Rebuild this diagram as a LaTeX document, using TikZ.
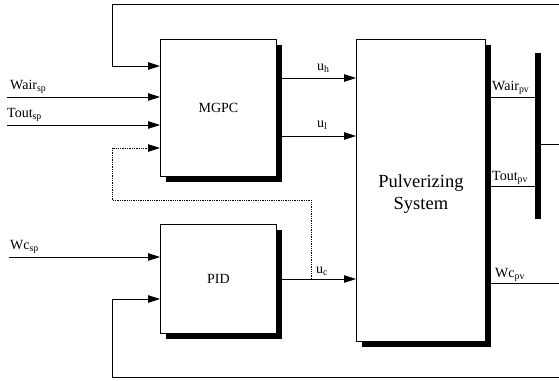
\documentclass[tikz,border=0pt]{standalone}
\usepackage{fontspec}
\setmainfont{Liberation Serif}
\usetikzlibrary{arrows.meta,shadows}
\begin{document}
\begin{tikzpicture}[x=1pt,y=-1pt,
  ln/.style={line width=0.8pt},
  arr/.style={ln,-{Triangle[length=12pt,width=7.5pt]}},
  dots/.style={line width=0.7pt,dash pattern=on 1.3pt off 1pt},
  blk/.style={draw,line width=0.8pt,fill=white,inner sep=0pt,
    drop shadow={shadow xshift=6pt,shadow yshift=-6pt,fill=black,opacity=1}},
  lbl/.style={font=\fontsize{14}{14}\selectfont,inner sep=0pt,anchor=base west}]
\useasboundingbox (0,0) rectangle (559,380);
% blocks
\node[blk,minimum width=116pt,minimum height=137pt,anchor=north west] (mgpc) at (160,39) {};
\node[font=\fontsize{14}{14}\selectfont] at (mgpc.center) {MGPC};
\node[blk,minimum width=116pt,minimum height=109pt,anchor=north west] (pid) at (160,224) {};
\node[font=\fontsize{14}{14}\selectfont] at (pid.center) {PID};
\node[blk,minimum width=129pt,minimum height=302pt,anchor=north west] (ps) at (356,39) {};
\node[font=\fontsize{18.5}{22}\selectfont,align=center] at ([yshift=-4pt]ps.center) {Pulverizing\\System};
% bar
\fill (535,53) rectangle (541,219);
\coordinate (bartop) at (535,97);
\coordinate (barmid) at (535,186);
\coordinate (barout) at (541,144);
% coordinates
\coordinate (topR) at (559,4);
\coordinate (topL) at (112,4);
\coordinate (in1) at (160,66);
\coordinate (wairs) at (7,97);
\coordinate (wairt) at (160,97);
\coordinate (touts) at (7,125);
\coordinate (toutt) at (160,125);
\coordinate (dott) at (160,148);
\coordinate (dotc) at (112,148);
\coordinate (dotb) at (112,200);
\coordinate (dotr) at (311,200);
\coordinate (dotj) at (311,279);
\coordinate (wcs) at (9,257);
\coordinate (wct) at (160,257);
\coordinate (fbt) at (160,299);
\coordinate (fbl) at (112,299);
\coordinate (botL) at (112,377);
\coordinate (botR) at (559,377);
\coordinate (uhs) at (282,78);
\coordinate (uht) at (356,78);
\coordinate (uls) at (282,136);
\coordinate (ult) at (356,136);
\coordinate (ucs) at (282,279);
\coordinate (uct) at (356,279);
\coordinate (wairo) at (491,97);
\coordinate (touto) at (491,186);
\coordinate (wco) at (491,283);
\coordinate (wcoR) at (559,283);
\coordinate (barR) at (559,144);
% connectors
\draw[arr] (topR) -- (topL) -- (topL |- in1) -- (in1);
\draw[arr] (wairs) -- (wairt);
\draw[arr] (touts) -- (toutt);
\draw[dots] (dotj) -- (dotr) -- (dotb) -- (dotc) -- ([xshift=-12pt]dott);
\draw[arr] ([xshift=-12pt]dott) -- (dott);
\draw[arr] (wcs) -- (wct);
\draw[arr] (botR) -- (botL) -- (fbl) -- (fbt);
\draw[arr] (uhs) -- (uht);
\draw[arr] (uls) -- (ult);
\draw[arr] (ucs) -- (uct);
\draw[ln] (wairo) -- (bartop);
\draw[ln] (touto) -- (barmid);
\draw[ln] (barout) -- (barR);
\draw[ln] (wco) -- (wcoR);
% labels
\node[lbl] at (10,89) {Wair\textsubscript{sp}};
\node[lbl] at (7,117) {Tout\textsubscript{sp}};
\node[lbl] at (10,249) {Wc\textsubscript{sp}};
\node[lbl] at (317,70) {u\textsubscript{h}};
\node[lbl] at (317,127) {u\textsubscript{l}};
\node[lbl] at (316,273) {u\textsubscript{c}};
\node[lbl] at (492,90) {Wair\textsubscript{pv}};
\node[lbl] at (492,180) {Tout\textsubscript{pv}};
\node[lbl] at (495,277) {Wc\textsubscript{pv}};
\end{tikzpicture}
\end{document}
